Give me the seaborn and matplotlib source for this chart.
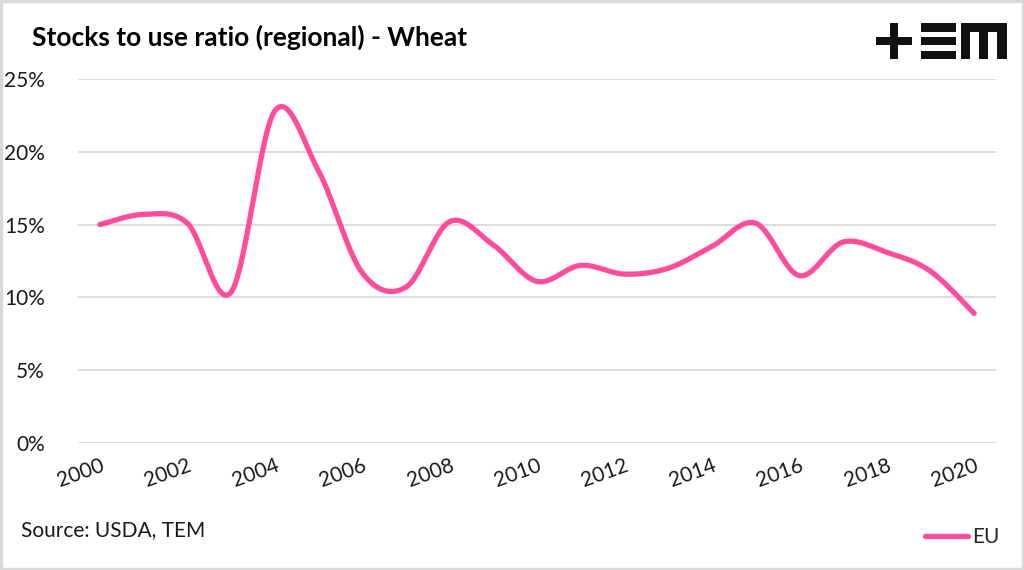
import numpy as np
import pandas as pd
import matplotlib
matplotlib.use("Agg")
import matplotlib.pyplot as plt
from matplotlib.patches import Rectangle
from matplotlib.lines import Line2D
import seaborn as sns

# ---- data ----
years = list(range(2000, 2021))
eu_ratio = [15.0, 15.7, 15.1, 10.35, 22.8, 18.7, 11.7, 10.7, 15.2, 13.6, 11.1,
            12.2, 11.6, 12.0, 13.5, 15.1, 11.5, 13.8, 13.1, 11.8, 8.9]
y_ticks = [0, 5, 10, 15, 20, 25]
x_tick_years = list(range(2000, 2021, 2))
title = "Stocks to use ratio (regional) - Wheat"
source = "Source: USDA, TEM"
series_name = "EU"

PINK = "#FF4D9B"
GRID = "#D9D9D9"
TXT = "#1a1a1a"

sns.set_theme(style="white")
plt.rcParams['font.family'] = ['Lato', 'DejaVu Sans']


def smooth_curve(xs, ys, n=30):
    """Excel-style smoothed line (Catmull-Rom as cubic Bezier)."""
    xs = np.asarray(xs, float)
    ys = np.asarray(ys, float)
    px = np.concatenate([[xs[0]], xs, [xs[-1]]])
    py = np.concatenate([[ys[0]], ys, [ys[-1]]])
    ox, oy = [], []
    t = np.linspace(0, 1, n)
    for i in range(1, len(px) - 2):
        p0 = np.array([px[i], py[i]])
        p3 = np.array([px[i + 1], py[i + 1]])
        p1 = p0 + (p3 - np.array([px[i - 1], py[i - 1]])) / 6.0
        p2 = p3 - (np.array([px[i + 2], py[i + 2]]) - p0) / 6.0
        b = ((1 - t) ** 3)[:, None] * p0 + (3 * (1 - t) ** 2 * t)[:, None] * p1 \
            + (3 * (1 - t) * t ** 2)[:, None] * p2 + (t ** 3)[:, None] * p3
        if i > 1:
            b = b[1:]
        ox.extend(b[:, 0])
        oy.extend(b[:, 1])
    return np.array(ox), np.array(oy)


cx, cy = smooth_curve(years, eu_ratio)
df = pd.DataFrame({"year": cx, "ratio": cy / 100.0})

W, H = 1024, 570
fig = plt.figure(figsize=(W / 100, H / 100), dpi=100)
fig.patch.set_facecolor("white")

ax = fig.add_axes([78 / W, (H - 443) / H, (996 - 78) / W, (443 - 79) / H])
sns.lineplot(data=df, x="year", y="ratio", sort=False, ax=ax, color=PINK,
             linewidth=3.8, solid_capstyle="round", solid_joinstyle="round")

ax.set_xlim(years[0] - 0.5, years[-1] + 0.5)
ax.set_ylim(0, 0.25)
ax.set_yticks([v / 100 for v in y_ticks])
ax.set_yticklabels([f"{v}%" for v in y_ticks], fontsize=15, color=TXT)
ax.set_xticks(x_tick_years)
ax.set_xticklabels([str(y) for y in x_tick_years], fontsize=15, color=TXT,
                   rotation=20, ha="right", rotation_mode="anchor")
ax.tick_params(axis="x", length=0, pad=9)
ax.tick_params(axis="y", length=0, pad=24)
ax.set_xlabel("")
ax.set_ylabel("")
ax.grid(axis="y", color=GRID, linewidth=1.3)
ax.grid(axis="x", visible=False)
for s in ax.spines.values():
    s.set_visible(False)
ax.set_axisbelow(True)

# title and source
fig.text(32 / W, 1 - 37 / H, title, fontsize=19, fontweight="bold",
         va="center", ha="left", color="black")
fig.text(21 / W, 1 - 530 / H, source, fontsize=15, va="center", ha="left",
         color=TXT)

# legend
handle = Line2D([], [], color=PINK, linewidth=3.8, solid_capstyle="round")
fig.legend([handle], [series_name], loc="center right",
           bbox_to_anchor=(1000 / W, 1 - 537 / H), frameon=False,
           fontsize=15, handlelength=2.1, handletextpad=0.2,
           borderaxespad=0, borderpad=0)

# logo "+≡m"
def px_rect(x0, y0, x1, y1):
    fig.patches.append(Rectangle((x0 / W, 1 - y1 / H), (x1 - x0) / W, (y1 - y0) / H,
                                 transform=fig.transFigure, facecolor="#111111",
                                 edgecolor="none"))

# plus
px_rect(876, 36.7, 912, 45)
px_rect(890, 22.7, 898, 59.3)
# equals (three bars)
px_rect(921, 22.7, 956, 31.7)
px_rect(921, 36.7, 956, 45)
px_rect(921, 50.7, 956, 59.3)
# m
px_rect(960.7, 22.7, 1006.7, 31.7)
px_rect(960.7, 22.7, 970, 59.3)
px_rect(979.3, 22.7, 988.3, 59.3)
px_rect(997.3, 22.7, 1006.7, 59.3)

# outer border
fig.patches.append(Rectangle((0.001, 0.002), 0.998, 0.996, transform=fig.transFigure,
                             facecolor="none", edgecolor=GRID, linewidth=2.5))

fig.savefig("out.png", dpi=100, facecolor="white")
